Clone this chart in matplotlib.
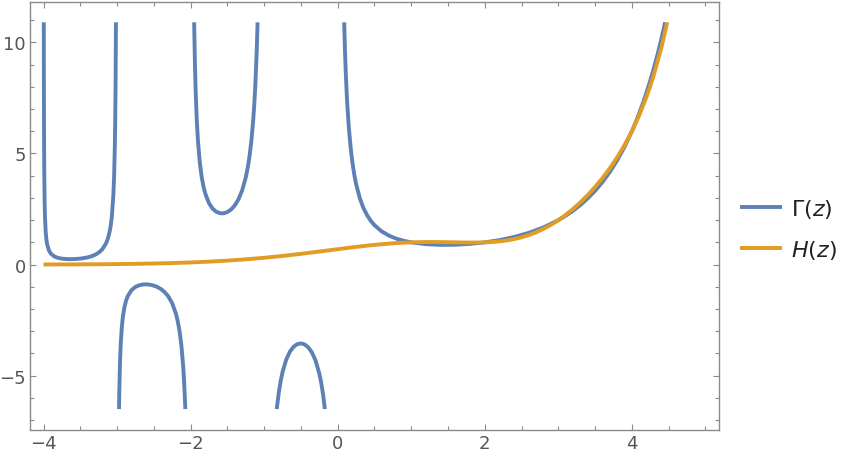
import numpy as np
import matplotlib
matplotlib.use("Agg")
import matplotlib.pyplot as plt

# Gamma(z) (clipped at the plot range)
g1_x = [-3.9961, -3.995, -3.993, -3.99, -3.985, -3.98, -3.97, -3.96, -3.95, -3.925, -3.9, -3.85,
        -3.8, -3.75, -3.7, -3.65, -3.6, -3.55, -3.5, -3.45, -3.4, -3.35, -3.3, -3.25, -3.2, -3.15,
        -3.125, -3.1, -3.085, -3.07, -3.05, -3.04, -3.03, -3.025, -3.02, -3.015]
g1_y = [10.9, 8.397, 6.016, 4.2305, 2.842, 2.1484, 1.4551, 1.1091, 0.902, 0.6277, 0.4919, 0.3605,
        0.2996, 0.2679, 0.2516, 0.2454, 0.2469, 0.255, 0.2701, 0.293, 0.3259, 0.3723, 0.4385, 0.5362, 0.6891, 0.9523,
        1.1667, 1.4923, 1.781, 2.1967, 3.1422, 3.972, 5.357, 6.467, 8.131, 10.9]

g2_x = [-2.9735, -2.97, -2.96, -2.95, -2.935, -2.92, -2.9, -2.875, -2.85, -2.8, -2.75, -2.7,
        -2.65, -2.6, -2.55, -2.5, -2.45, -2.4, -2.35, -2.3, -2.25, -2.2, -2.175, -2.15,
        -2.125, -2.1, -2.09, -2.08, -2.072]
g2_y = [-6.5, -5.777, -4.392, -3.5628, -2.8, -2.326, -1.9184, -1.597, -1.388, -1.1386, -1.0045, -0.9311,
        -0.8959, -0.8887, -0.9054, -0.9453, -1.011, -1.108, -1.2472, -1.4471, -1.7428, -2.205, -2.543, -2.9997,
        -3.646, -4.6262, -5.173, -5.859, -6.5]

g3_x = [-1.952, -1.94, -1.93, -1.915, -1.9, -1.875, -1.85, -1.825, -1.8, -1.75, -1.7, -1.65,
        -1.6, -1.55, -1.5, -1.45, -1.4, -1.35, -1.3, -1.25, -1.225, -1.2, -1.175, -1.15,
        -1.135, -1.12, -1.1, -1.0895]
g3_y = [10.9, 8.854, 7.674, 6.43, 5.5634, 4.592, 3.9556, 3.511, 3.1881, 2.7623, 2.5139, 2.374,
        2.3106, 2.3087, 2.3633, 2.4768, 2.6593, 2.9308, 3.3284, 3.9213, 4.33, 4.8509, 5.531, 6.4492,
        7.167, 8.075, 9.7148, 10.9]

g4_x = [-0.828, -0.82, -0.8, -0.775, -0.75, -0.7, -0.65, -0.6, -0.55, -0.5, -0.45, -0.4,
        -0.35, -0.3, -0.25, -0.225, -0.2, -0.19, -0.175]
g4_y = [-6.5, -6.258, -5.7386, -5.23, -4.8341, -4.2737, -3.9171, -3.6969, -3.5784, -3.5449, -3.5914, -3.723,
        -3.9566, -4.3269, -4.9017, -5.304, -5.8211, -6.069, -6.5]

g5_x = [0.088, 0.094, 0.1, 0.11, 0.12, 0.13, 0.15, 0.175, 0.2, 0.225, 0.25, 0.3, 0.35, 0.4, 0.45,
        0.5, 0.6, 0.7, 0.8, 0.9, 1.0, 1.2, 1.4, 1.6, 1.8, 2.0, 2.2, 2.4, 2.6, 2.8, 3.0,
        3.1, 3.2, 3.3, 3.4, 3.5, 3.6, 3.7, 3.8, 3.9, 4.0, 4.05, 4.1, 4.15, 4.2, 4.25,
        4.3, 4.35, 4.4, 4.452]
g5_y = [10.9, 10.154, 9.5135, 8.613, 7.863, 7.23, 6.2203, 5.287, 4.5908, 4.053, 3.6256, 2.9916, 2.5461, 2.2182, 1.968,
        1.7725, 1.4892, 1.2981, 1.1642, 1.0686, 1.0, 0.91817, 0.88726, 0.89352, 0.93138, 1.0, 1.1018, 1.2422, 1.4296, 1.6765, 2.0,
        2.1976, 2.424, 2.6834, 2.9812, 3.3234, 3.717, 4.1707, 4.6942, 5.2994, 6.0, 6.3911, 6.8126, 7.2669, 7.7567, 8.2852,
        8.8553, 9.471, 10.136, 10.9]

# Hadamard gamma H(z)
h_x = [-4, -3.75, -3.5, -3.25, -3, -2.75, -2.5, -2.25, -2, -1.75, -1.5, -1.25, -1, -0.75, -0.5, -0.25,
       0, 0.1, 0.2, 0.3, 0.4, 0.5, 0.6, 0.7, 0.8, 0.9, 1.0, 1.1, 1.2, 1.3, 1.4, 1.5, 1.6, 1.7, 1.8, 1.9,
       2.0, 2.1, 2.2, 2.3, 2.4, 2.5, 2.6, 2.7, 2.8, 2.9, 3.0, 3.1, 3.2, 3.3, 3.4, 3.5, 3.6, 3.7, 3.8, 3.9,
       4.0, 4.1, 4.2, 4.25, 4.3, 4.4, 4.48]
h_y = [0.0046, 0.007, 0.0106, 0.0158, 0.0234, 0.0341, 0.0489, 0.0693, 0.0966, 0.1324, 0.1786, 0.2364, 0.3069, 0.3901, 0.4844, 0.5871,
       0.6931, 0.7348, 0.7757, 0.8149, 0.8519, 0.8862, 0.9172, 0.9444, 0.9675, 0.9861, 1.0, 1.0093, 1.0141, 1.0149, 1.0123, 1.0073, 1.0011, 0.9954, 0.9918, 0.9926,
       1.0, 1.0166, 1.0451, 1.0882, 1.1486, 1.2289, 1.3313, 1.4581, 1.611, 1.7913, 2.0, 2.2378, 2.5053, 2.8033, 3.1326, 3.4954, 3.8941, 4.3347, 4.8245, 5.3744,
       6.0, 6.721, 7.5634, 8.0407, 8.5599, 9.7483, 10.9]

blue = "#5E81B5"
orange = "#E19C24"
frame = "#8a8a8a"

fig = plt.figure(figsize=(8.56, 4.6), dpi=100)
ax = fig.add_axes([0.0345, 0.0641, 0.8051, 0.9287])

lw = 2.8
branches = [(g1_x, g1_y), (g2_x, g2_y), (g3_x, g3_y), (g4_x, g4_y), (g5_x, g5_y)]
for i, (bx, by) in enumerate(branches):
    ax.plot(bx, by, color=blue, lw=lw, solid_capstyle="butt", solid_joinstyle="round",
            label=r"$\Gamma(z)$" if i == 0 else None)
ax.plot(h_x, h_y, color=orange, lw=lw, solid_capstyle="butt", solid_joinstyle="round",
        label=r"$H(z)$")

ax.set_xlim(-4.19, 5.18)
ax.set_ylim(-7.42, 11.8)

ax.set_xticks([-4, -2, 0, 2, 4])
ax.set_xticks(np.arange(-4, 5.01, 0.5), minor=True)
ax.set_yticks([-5, 0, 5, 10])
ax.set_yticks(np.arange(-7, 11.01, 1), minor=True)
ax.set_xticklabels(["\u22124", "\u22122", "0", "2", "4"])
ax.set_yticklabels(["\u22125", "0", "5", "10"])

for s in ax.spines.values():
    s.set_color(frame)
    s.set_linewidth(1.0)
ax.tick_params(which="both", direction="in", top=True, right=True, color=frame,
               width=0.8, labelcolor="#555555", labelsize=13)
ax.tick_params(which="major", length=4.5, pad=3.5)
ax.tick_params(axis="y", which="major", pad=2.5)
ax.tick_params(which="minor", length=2.8)

leg = ax.legend(loc="center left", bbox_to_anchor=(1.031, 0.469), frameon=False,
                fontsize=16, handlelength=1.9, handletextpad=0.4, labelspacing=0.8,
                borderpad=0, borderaxespad=0)
for t in leg.get_texts():
    t.set_color("#222222")

fig.savefig("out.png", dpi=100)
